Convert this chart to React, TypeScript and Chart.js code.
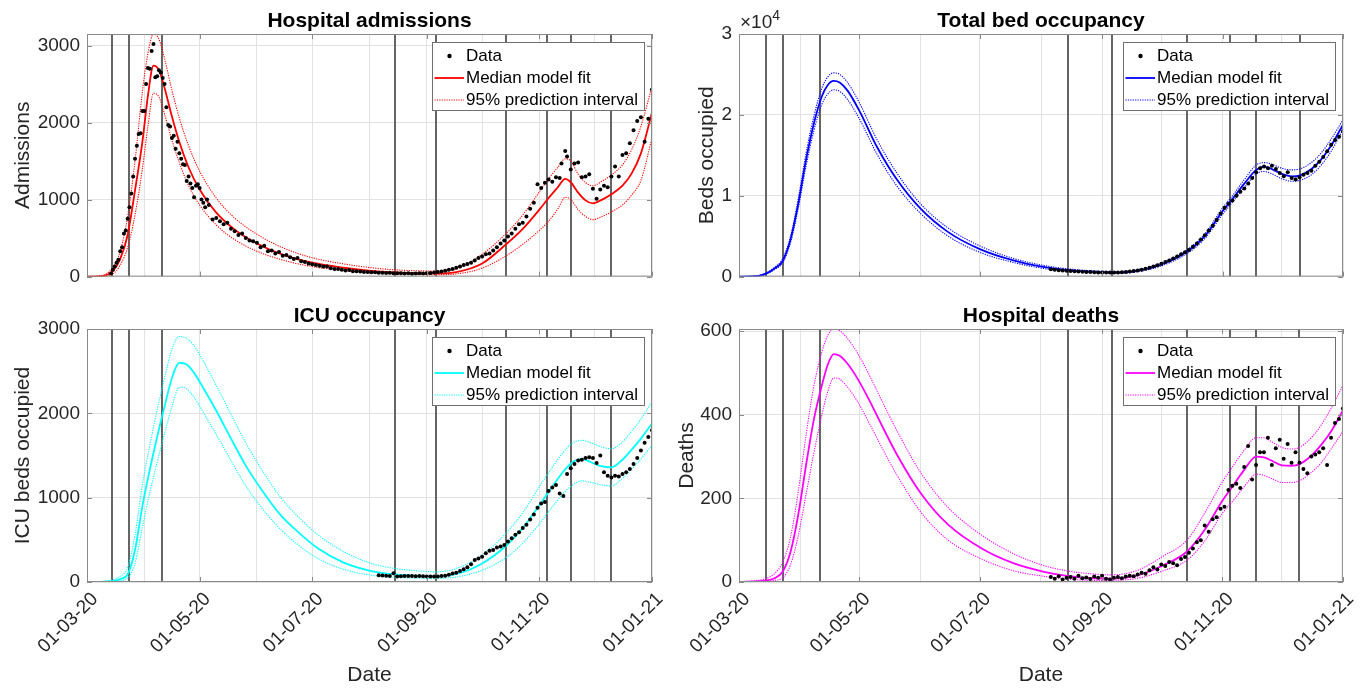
import React, { useEffect, useRef } from 'react';
import { Chart, registerables } from 'chart.js';
Chart.register(...registerables);

const FONT = '"Liberation Sans", Arial, Helvetica, sans-serif';

function range(a: number, b: number, s: number) {
  const r: number[] = [];
  for (let v = a; v <= b; v += s) r.push(v);
  return r;
}

// x axis: days since 01-03-20
const monthTicks = [0, 31, 61, 92, 122, 153, 184, 214, 245, 275, 306];
const monthLabels = ['01-03-20', '', '01-05-20', '', '01-07-20', '', '01-09-20', '', '01-11-20', '', '01-01-21'];
const interventionDays = [13.7, 22.5, 40.8, 166.8, 189, 227, 249, 262, 284];

// ---------- Hospital admissions ----------
const admYTicks = [0, 1000, 2000, 3000];
const admModelDays = [0, 6, 10, 14, 18, 22, 26, 30, 33, 36, 39, 42, 46, 50, 55, 61, 70, 80, 92, 106, 122, 139, 154, 167, 180, 190, 200, 214, 227, 236, 245, 250, 255, 259, 262, 266, 270, 274, 279, 284, 290, 295, 300, 306];
const admMedian = [0, 3, 15, 70, 230, 540, 1120, 1750, 2350, 2740, 2680, 2450, 2080, 1750, 1420, 1130, 830, 610, 430, 285, 180, 115, 75, 55, 45, 42, 58, 170, 420, 620, 870, 1020, 1160, 1270, 1225, 1090, 990, 950, 1000, 1070, 1180, 1340, 1600, 2130];
const admUpper = [2, 8, 30, 120, 330, 780, 1500, 2400, 2900, 3150, 3080, 2830, 2420, 2060, 1700, 1370, 1020, 760, 550, 375, 245, 165, 115, 88, 75, 72, 100, 290, 560, 800, 1100, 1270, 1420, 1530, 1500, 1330, 1220, 1180, 1240, 1320, 1450, 1650, 1950, 2470];
const admLower = [0, 1, 5, 35, 150, 380, 800, 1400, 1950, 2380, 2330, 2110, 1770, 1480, 1180, 930, 670, 480, 330, 215, 130, 80, 50, 35, 28, 25, 35, 110, 270, 420, 600, 720, 880, 1030, 1000, 870, 780, 740, 780, 840, 930, 1060, 1250, 1800];
const admDataDays = [...range(13, 66, 1), ...range(68, 234, 2), 236, 238, 240, 242, 244, 246, 248, 250, 252, 254, 256, 257, 259, 260, 262, 264, 266, 268, 270, 272, 274, 276, 278, 280, 282, 284, 286, 288, 290, 292, 294, 296, 298, 300, 302, 304, 306];
const admData = [
  40, 90, 130, 180, 220, 330, 380, 560, 600, 750, 900, 1080, 1300, 1530, 1700, 1850, 1860, 2150, 2150, 2500, 2710, 2700, 2930, 3020, 2590, 2600, 2680, 2650, 2580, 2500, 2200, 1970, 1950, 1800, 1830, 1660, 1750, 1600, 1530, 1460, 1450, 1240, 1300, 1210, 1150, 1030, 1180, 1200, 1150, 1000, 960, 900, 1000, 930,
  740, 760, 720, 680, 700, 620, 590, 540, 560, 500, 470, 460, 440, 380, 400, 330, 340, 300, 320, 270, 280, 250, 230, 240, 200, 190, 170, 160, 150, 140, 130, 130, 110, 100, 100, 90, 80, 85, 70, 70, 65, 60, 60, 55, 55, 50, 50, 48, 50, 45, 42, 45, 40, 42, 38, 40, 42, 40, 45, 48, 52, 60, 65, 75, 90, 100, 115, 130, 150, 165, 180, 210, 240, 260, 290, 300, 340, 380, 430, 470, 520, 560, 620, 680,
  700, 780, 880, 960, 1200, 1150, 1220, 1260, 1230, 1290, 1280, 1470, 1630, 1560, 1390, 1470, 1480, 1290, 1300, 1330, 1140, 1010, 1130, 1180, 1160, 1300, 1430, 1300, 1580, 1600, 1730, 1900, 2020, 2070, 1750, 2050, 2430,
];

// ---------- Total bed occupancy ----------
const bedYTicks = [0, 10000, 20000, 30000];
const bedModelDays = [0, 6, 10, 14, 18, 22, 26, 30, 34, 38, 42, 45, 48, 51, 55, 61, 70, 80, 92, 106, 122, 139, 154, 167, 180, 190, 200, 214, 227, 236, 245, 250, 256, 262, 266, 270, 275, 280, 284, 290, 295, 300, 306];
const bedMedian = [0, 20, 100, 400, 1000, 1900, 4500, 9000, 14500, 19000, 22300, 23700, 24200, 24000, 23000, 20500, 16000, 12000, 8400, 5500, 3400, 2000, 1200, 800, 580, 500, 650, 1500, 3100, 5000, 8100, 9600, 11500, 13200, 13600, 13300, 12700, 12400, 12500, 13300, 14500, 16200, 18800];
const bedUpper = [0, 30, 130, 480, 1150, 2150, 4900, 9600, 15300, 19900, 23300, 24700, 25200, 25000, 24000, 21500, 16900, 12800, 9000, 6000, 3800, 2250, 1400, 950, 700, 620, 780, 1700, 3350, 5300, 8500, 10000, 12000, 13800, 14100, 13900, 13400, 13200, 13300, 14100, 15300, 17000, 19400];
const bedLower = [0, 12, 75, 330, 870, 1680, 4100, 8400, 13700, 18100, 21300, 22600, 23100, 22900, 21900, 19500, 15100, 11200, 7800, 5000, 3000, 1750, 1020, 670, 480, 410, 540, 1320, 2850, 4700, 7700, 9200, 11000, 12700, 13000, 12700, 12100, 11800, 11900, 12600, 13800, 15500, 18200];
const bedDataDays = range(158, 306, 2);
const bedData = [900, 850, 800, 760, 720, 680, 650, 620, 600, 580, 560, 540, 520, 510, 500, 500, 500, 520, 540, 580, 620, 680, 760, 860, 980, 1100, 1250, 1400, 1600, 1800, 2000, 2250, 2500, 2750, 3000, 3300, 3700, 4100, 4600, 5100, 5700, 6300, 7000, 7800, 8500, 9000, 9400, 10000, 10500, 10900, 11500, 12200, 12900, 13400, 13600, 13400, 13700, 13300, 12800, 12400, 12900, 12200, 12000, 12300, 12600, 12800, 13100, 13700, 14200, 14800, 15500, 16300, 16900, 17300, 18000];

// ---------- ICU occupancy ----------
const icuYTicks = [0, 1000, 2000, 3000];
const icuModelDays = [0, 6, 10, 14, 18, 22, 26, 30, 34, 38, 42, 46, 50, 54, 58, 63, 70, 78, 86, 95, 105, 115, 125, 139, 154, 167, 180, 189, 200, 214, 227, 236, 245, 252, 258, 263, 268, 273, 279, 284, 290, 295, 300, 306];
const icuMedian = [0, 2, 5, 10, 35, 90, 380, 900, 1330, 1720, 2080, 2420, 2600, 2580, 2480, 2300, 2030, 1700, 1380, 1080, 790, 580, 400, 230, 130, 90, 72, 68, 95, 220, 430, 640, 910, 1130, 1310, 1420, 1460, 1420, 1370, 1360, 1450, 1570, 1700, 1880];
const icuUpper = [2, 5, 10, 25, 70, 170, 560, 1150, 1620, 2040, 2420, 2760, 2910, 2890, 2800, 2620, 2330, 1990, 1650, 1320, 1000, 760, 560, 360, 220, 160, 130, 120, 160, 320, 580, 820, 1130, 1360, 1540, 1650, 1680, 1650, 1600, 1580, 1660, 1790, 1930, 2140];
const icuLower = [0, 1, 3, 5, 15, 45, 220, 650, 1060, 1420, 1760, 2080, 2310, 2290, 2190, 2010, 1750, 1440, 1140, 870, 620, 430, 280, 150, 80, 55, 45, 42, 60, 140, 290, 460, 690, 890, 1050, 1150, 1200, 1180, 1150, 1140, 1230, 1340, 1460, 1620];
const icuDataDays = range(158, 306, 2);
const icuData = [80, 78, 75, 72, 105, 65, 68, 70, 72, 70, 68, 70, 68, 66, 65, 64, 65, 70, 75, 85, 100, 110, 130, 150, 175, 210, 260, 280, 300, 340, 370, 380, 410, 420, 440, 480, 520, 560, 590, 640, 680, 740, 800, 880, 930, 950, 1080, 1120, 1150, 1050, 1020, 1280, 1350, 1400, 1440, 1450, 1470, 1480, 1470, 1410, 1500, 1300, 1260, 1240, 1260, 1250, 1280, 1300, 1340, 1400, 1470, 1560, 1650, 1720, 1800];

// ---------- Hospital deaths ----------
const dthYTicks = [0, 200, 400, 600];
const dthModelDays = [0, 6, 10, 14, 18, 22, 26, 30, 34, 38, 42, 45, 48, 51, 55, 60, 66, 72, 80, 92, 106, 123, 139, 154, 167, 180, 189, 202, 215, 227, 236, 245, 250, 256, 262, 266, 270, 275, 280, 284, 290, 295, 300, 306];
const dthMedian = [0, 1, 2, 4, 9, 24, 70, 160, 280, 390, 470, 520, 545, 541, 522, 487, 435, 378, 305, 213, 137, 80, 45, 25, 14, 9, 8, 16, 40, 73, 125, 195, 228, 268, 300, 298, 290, 279, 278, 282, 302, 328, 360, 410];
const dthUpper = [1, 2, 4, 9, 20, 46, 105, 215, 352, 470, 550, 590, 605, 601, 582, 548, 495, 437, 362, 262, 178, 112, 68, 40, 26, 19, 17, 28, 62, 100, 165, 240, 275, 315, 345, 345, 335, 322, 318, 322, 345, 375, 415, 470];
const dthLower = [0, 0, 1, 2, 4, 10, 40, 110, 210, 310, 400, 455, 488, 485, 466, 432, 380, 325, 256, 168, 100, 55, 27, 14, 7, 4, 4, 9, 27, 52, 98, 165, 192, 228, 258, 255, 247, 238, 238, 242, 262, 285, 318, 360];
const dthDataDays = range(158, 306, 2);
const dthData = [12, 8, 14, 6, 10, 12, 8, 15, 9, 11, 7, 13, 10, 15, 8, 6, 10, 12, 9, 13, 15, 14, 18, 22, 20, 28, 35, 30, 42, 38, 48, 45, 40, 55, 60, 70, 80, 95, 100, 135, 120, 150, 155, 175, 180, 220, 230, 235, 225, 275, 325, 245, 280, 310, 310, 345, 280, 320, 340, 295, 330, 285, 310, 285, 270, 260, 300, 305, 310, 320, 280, 345, 380, 390, 415];

type PanelDef = {
  id: string; title: string; ylabel: string; color: string; ymax: number; yTicks: number[];
  modelDays: number[]; median: number[]; upper: number[]; lower: number[]; dataDays: number[]; data: number[];
  left: number; top: number; w: number; h: number; yw: number; padRight: number; padTop: number; xh: number;
  yTitlePad: number; showX: boolean; exponent: boolean;
};

const panels: PanelDef[] = [
  { id: 'adm', title: 'Hospital admissions', ylabel: 'Admissions', color: '#ff0000', ymax: 3150, yTicks: admYTicks,
    modelDays: admModelDays, median: admMedian, upper: admUpper, lower: admLower, dataDays: admDataDays, data: admData,
    left: 0, top: 0, w: 690, h: 295, yw: 87, padRight: 38, padTop: 34, xh: 12, yTitlePad: 11, showX: false, exponent: false },
  { id: 'bed', title: 'Total bed occupancy', ylabel: 'Beds occupied', color: '#0000ff', ymax: 30000, yTicks: bedYTicks,
    modelDays: bedModelDays, median: bedMedian, upper: bedUpper, lower: bedLower, dataDays: bedDataDays, data: bedData,
    left: 670, top: 0, w: 695, h: 295, yw: 69, padRight: 22, padTop: 34, xh: 12, yTitlePad: 25, showX: false, exponent: true },
  { id: 'icu', title: 'ICU occupancy', ylabel: 'ICU beds occupied', color: '#00ffff', ymax: 3000, yTicks: icuYTicks,
    modelDays: icuModelDays, median: icuMedian, upper: icuUpper, lower: icuLower, dataDays: icuDataDays, data: icuData,
    left: 0, top: 295, w: 690, h: 393, yw: 87, padRight: 38, padTop: 34, xh: 106, yTitlePad: 11, showX: true, exponent: false },
  { id: 'dth', title: 'Hospital deaths', ylabel: 'Deaths', color: '#ff00ff', ymax: 605, yTicks: dthYTicks,
    modelDays: dthModelDays, median: dthMedian, upper: dthUpper, lower: dthLower, dataDays: dthDataDays, data: dthData,
    left: 670, top: 295, w: 695, h: 393, yw: 69, padRight: 22, padTop: 34, xh: 106, yTitlePad: 5, showX: true, exponent: false },
];

const pts = (xs: number[], ys: number[]) => {
  const n = Math.min(xs.length, ys.length);
  const out: { x: number; y: number }[] = [];
  for (let i = 0; i < n; i++) out.push({ x: xs[i], y: ys[i] });
  return out;
};

function decorPlugin(p: PanelDef) {
  return {
    id: 'decor_' + p.id,
    beforeDatasetsDraw(chart: any) {
      const { ctx, chartArea: a, scales } = chart;
      const x = scales.x;
      ctx.save();
      ctx.beginPath();
      ctx.rect(a.left, a.top, a.right - a.left, a.bottom - a.top);
      ctx.clip();
      ctx.strokeStyle = '#555555';
      ctx.lineWidth = 1.8;
      for (const d of interventionDays) {
        const px = Math.round(x.getPixelForValue(d));
        ctx.beginPath();
        ctx.moveTo(px, a.top);
        ctx.lineTo(px, a.bottom);
        ctx.stroke();
      }
      ctx.restore();
    },
    afterDraw(chart: any) {
      const { ctx, chartArea: a, scales } = chart;
      const x = scales.x, y = scales.y;
      ctx.save();
      // axes box
      ctx.strokeStyle = '#8a8a8a';
      ctx.lineWidth = 1;
      ctx.strokeRect(a.left + 0.5, a.top + 0.5, a.right - a.left - 1, a.bottom - a.top - 1);
      // inward ticks
      ctx.beginPath();
      for (const t of p.yTicks) {
        const py = Math.round(y.getPixelForValue(t)) + 0.5;
        ctx.moveTo(a.left, py); ctx.lineTo(a.left + 5, py);
        ctx.moveTo(a.right, py); ctx.lineTo(a.right - 5, py);
      }
      monthTicks.forEach((t, i) => {
        if (!monthLabels[i]) return;
        const px = Math.round(x.getPixelForValue(t)) + 0.5;
        ctx.moveTo(px, a.bottom); ctx.lineTo(px, a.bottom - 5);
        ctx.moveTo(px, a.top); ctx.lineTo(px, a.top + 5);
      });
      ctx.stroke();

      // legend
      const bw = 212, bh = 68;
      const bx = Math.round(a.right - 8 - bw) + 0.5;
      const by = Math.round(a.top + 8) + 0.5;
      ctx.fillStyle = '#ffffff';
      ctx.fillRect(bx, by, bw, bh);
      ctx.strokeStyle = '#707070';
      ctx.lineWidth = 1;
      ctx.strokeRect(bx, by, bw, bh);
      const rows = [by + 13.5, by + 35.5, by + 57.5];
      ctx.fillStyle = '#000';
      ctx.beginPath();
      ctx.arc(bx + 17, rows[0], 2.2, 0, Math.PI * 2);
      ctx.fill();
      ctx.strokeStyle = p.color;
      ctx.lineWidth = 1.8;
      ctx.beginPath();
      ctx.moveTo(bx + 2, rows[1]); ctx.lineTo(bx + 31.5, rows[1]);
      ctx.stroke();
      ctx.lineWidth = 1.2;
      ctx.setLineDash([1.2, 1.2]);
      ctx.beginPath();
      ctx.moveTo(bx + 2, rows[2]); ctx.lineTo(bx + 31.5, rows[2]);
      ctx.stroke();
      ctx.setLineDash([]);
      ctx.font = `17px ${FONT}`;
      ctx.textBaseline = 'middle';
      ctx.textAlign = 'left';
      ctx.fillStyle = '#000';
      ctx.fillText('Data', bx + 33.5, rows[0]);
      ctx.fillText('Median model fit', bx + 33.5, rows[1]);
      ctx.fillText('95% prediction interval', bx + 33.5, rows[2]);

      // title
      ctx.font = `bold 21px ${FONT}`;
      ctx.textAlign = 'center';
      ctx.textBaseline = 'alphabetic';
      ctx.fillStyle = '#000';
      ctx.fillText(p.title, (a.left + a.right) / 2, a.top - 7);

      // exponent
      if (p.exponent) {
        ctx.fillStyle = '#262626';
        ctx.textAlign = 'left';
        ctx.font = `19px ${FONT}`;
        const s = '\u00d710';
        ctx.fillText(s, a.left + 1, a.top - 6);
        const w = ctx.measureText(s).width;
        ctx.font = `14px ${FONT}`;
        ctx.fillText('4', a.left + 1 + w, a.top - 14);
      }
      ctx.restore();
    },
  };
}

function makeConfig(p: PanelDef): any {
  return {
    type: 'scatter',
    data: {
      datasets: [
        { type: 'scatter', data: pts(p.dataDays, p.data), pointRadius: 2, pointBackgroundColor: '#000', pointBorderWidth: 0, pointHoverRadius: 0, order: 0 },
        { type: 'line', data: pts(p.modelDays, p.median), borderColor: p.color, borderWidth: 1.8, pointRadius: 0, cubicInterpolationMode: 'monotone', fill: false, order: 1 },
        { type: 'line', data: pts(p.modelDays, p.upper), borderColor: p.color, borderWidth: 1.1, borderDash: [1.2, 1.2], pointRadius: 0, cubicInterpolationMode: 'monotone', fill: false, order: 2 },
        { type: 'line', data: pts(p.modelDays, p.lower), borderColor: p.color, borderWidth: 1.1, borderDash: [1.2, 1.2], pointRadius: 0, cubicInterpolationMode: 'monotone', fill: false, order: 3 },
      ],
    },
    options: {
      responsive: false,
      animation: false,
      events: [],
      layout: { padding: { left: 0, top: p.padTop, right: p.padRight, bottom: 0 } },
      plugins: { legend: { display: false }, tooltip: { enabled: false }, title: { display: false } },
      scales: {
        x: {
          type: 'linear', min: 0, max: 306,
          afterBuildTicks: (s: any) => { s.ticks = monthTicks.map((v) => ({ value: v })); },
          afterFit: (s: any) => { s.height = p.xh; },
          ticks: {
            display: p.showX, autoSkip: false, minRotation: 45, maxRotation: 45, padding: 6, labelOffset: 8,
            callback: (_v: any, i: number) => monthLabels[i],
            font: { family: FONT, size: 19 }, color: '#262626',
          },
          grid: { color: '#e2e2e2', drawTicks: false, lineWidth: 1 },
          border: { display: false },
          title: { display: p.showX, text: 'Date', font: { family: FONT, size: 21 }, color: '#262626', padding: { top: 0, bottom: 0 } },
        },
        y: {
          type: 'linear', min: 0, max: p.ymax,
          afterBuildTicks: (s: any) => { s.ticks = p.yTicks.map((v) => ({ value: v })); },
          afterFit: (s: any) => { s.width = p.yw; },
          ticks: {
            padding: 7,
            callback: (v: any) => String(p.exponent ? v / 10000 : v),
            font: { family: FONT, size: 19 }, color: '#262626',
          },
          grid: { color: '#e2e2e2', drawTicks: false, lineWidth: 1 },
          border: { display: false },
          title: { display: true, text: p.ylabel, font: { family: FONT, size: 21 }, color: '#262626', padding: { top: p.yTitlePad, bottom: 0 } },
        },
      },
    },
    plugins: [decorPlugin(p)],
  };
}

function Panel({ p }: { p: PanelDef }) {
  const ref = useRef<HTMLCanvasElement>(null);
  useEffect(() => {
    if (!ref.current) return;
    const chart = new Chart(ref.current, makeConfig(p));
    return () => chart.destroy();
  }, [p]);
  return (
    <canvas
      ref={ref}
      width={p.w}
      height={p.h}
      style={{ position: 'absolute', left: p.left, top: p.top, width: p.w, height: p.h }}
    />
  );
}

export default function App() {
  return (
    <div style={{ position: 'absolute', left: 0, top: 0, width: 1365, height: 688, background: '#ffffff', overflow: 'hidden' }}>
      {panels.map((p) => (
        <Panel key={p.id} p={p} />
      ))}
    </div>
  );
}
